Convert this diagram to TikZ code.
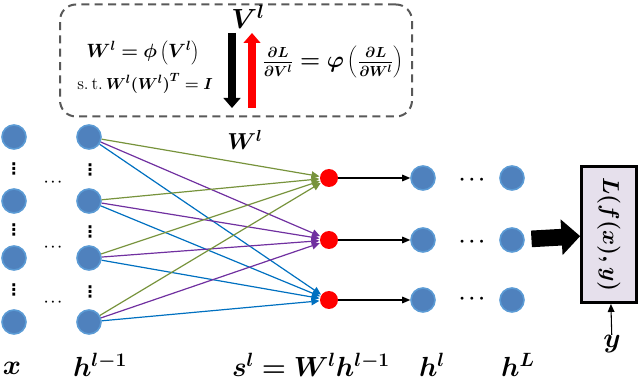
\documentclass[tikz,border=0pt]{standalone}
\usepackage{fontspec}
\usepackage{xcolor}
\usepackage{bm}
\usepackage{tikz}
\usetikzlibrary{positioning,arrows.meta}
\newfontfamily\symfont{DejaVu Sans}
\definecolor{unitfill}{HTML}{4F81BD}
\definecolor{unitrim}{HTML}{5B9BD5}
\definecolor{wgreen}{HTML}{77933C}
\definecolor{wpurple}{HTML}{7030A0}
\definecolor{wblue}{HTML}{0070C0}
\definecolor{lossfill}{HTML}{E6E0EC}
\definecolor{frame}{HTML}{595959}
\tikzset{
  unit/.style={circle,fill=unitfill,draw=unitrim,line width=1.2pt,
    minimum size=18pt,inner sep=0pt},
  pre/.style={circle,fill=red,minimum size=13.5pt,inner sep=0pt},
  lossbox/.style={rectangle,draw=black,fill=lossfill,line width=2.2pt,
    minimum width=41pt,minimum height=102pt,inner sep=0pt},
  dashbox/.style={rectangle,draw=frame,line width=1.5pt,dash pattern=on 6pt off 4pt,
    rounded corners=12pt,minimum width=264pt,minimum height=84pt},
  wl/.style={line width=0.9pt,-{Triangle[length=6pt,width=5.5pt]},shorten >=0.3pt},
  fl/.style={line width=0.8pt,-{Triangle[length=6pt,width=5pt]}},
  updown/.style={line width=5.5pt,-{Triangle[length=7.5pt,width=12.5pt]}},
  big/.style={line width=12.5pt,-{Triangle[length=14pt,width=26pt]},shorten <=5pt},
  vd/.style={font=\symfont\bfseries\large,inner sep=0pt},
  hd/.style={font=\normalsize,inner sep=0pt},
  lab/.style={font=\huge,inner sep=0pt},
}

\begin{document}
\begin{tikzpicture}[x=0.75pt,y=-0.75pt]
  \useasboundingbox (0,0) rectangle (640,381);
  % input layer and layer l-1
  \node[unit] (x1) at (14,137) {};
  \node[unit] (x2) at (14,201) {};
  \node[unit] (x3) at (14,258) {};
  \node[unit] (x4) at (14,322) {};
  \node[unit] (h1) at (89,137) {};
  \node[unit] (h2) at (89,201) {};
  \node[unit] (h3) at (89,258) {};
  \node[unit] (h4) at (89,322) {};
  \node[vd] (xd1) at (14,169) {⋮};
  \node[vd] (xd2) at (14,230) {⋮};
  \node[vd] (xd3) at (14,290) {⋮};
  \node[vd] (hd1) at (90,170) {⋮};
  \node[vd] (hd2) at (90,232) {⋮};
  \node[vd] (hd3) at (90,292) {⋮};
  \node[hd] (md1) at (53,182) {$\bm{\cdots}$};
  \node[hd] (md2) at (53,247) {$\bm{\cdots}$};
  \node[hd] (md3) at (53,302) {$\bm{\cdots}$};
  % pre-activations, layer l and last layer
  \node[pre] (s1) at (329,178) {};
  \node[pre] (s2) at (329,240) {};
  \node[pre] (s3) at (329,300) {};
  \node[unit] (a1) at (423,178) {};
  \node[unit] (a2) at (423,240) {};
  \node[unit] (a3) at (423,300) {};
  \node[unit] (b1) at (512,178) {};
  \node[unit] (b2) at (512,240) {};
  \node[unit] (b3) at (512,300) {};
  \node[hd,font=\Large] (rd1) at (472,180) {$\bm{\cdots}$};
  \node[hd,font=\Large] (rd2) at (472,242) {$\bm{\cdots}$};
  \node[hd,font=\Large] (rd3) at (472,299) {$\bm{\cdots}$};
  \node[lossbox] (L) at (609,234.5) {\rotatebox{-90}{\fontsize{18.5}{22}\selectfont$\bm{L(f(x),y)}$}};
  % weights
  \draw[wl,wgreen] (h1) -- (s1); \draw[wl,wpurple] (h1) -- (s2); \draw[wl,wblue] (h1) -- (s3);
  \draw[wl,wgreen] (h2) -- (s1); \draw[wl,wpurple] (h2) -- (s2); \draw[wl,wblue] (h2) -- (s3);
  \draw[wl,wgreen] (h3) -- (s1); \draw[wl,wpurple] (h3) -- (s2); \draw[wl,wblue] (h3) -- (s3);
  \draw[wl,wgreen] (h4) -- (s1); \draw[wl,wpurple] (h4) -- (s2); \draw[wl,wblue] (h4) -- (s3);
  \draw[fl] (s1) -- (a1); \draw[fl] (s2) -- (a2); \draw[fl] (s3) -- (a3);
  \draw[big] (b2) -- (L);
  % labels
  \node[lab] (lx) at (12,368) {$\bm{x}$};
  \node[lab] (lh) at (100,365) {$\bm{h^{l-1}}$};
  \node[lab] (ls) at (311,365) {$\bm{s^l = W^l h^{l-1}}$};
  \node[lab] (la) at (432,365) {$\bm{h^l}$};
  \node[lab] (lb) at (518,365) {$\bm{h^L}$};
  \node[lab] (ly) at (612,344) {$\bm{y}$};
  \draw[fl] (ly) -- (L);
  \node[lab,font=\LARGE] (lw) at (245,140) {$\bm{W^l}$};
  % reparametrisation box
  \node[dashbox] (B) at (236,60.5) {};
  \node[font=\Large,inner sep=0pt] (e1) at (143,53) {$\bm{W^l = \phi\left(V^l\right)}$};
  \node[font=\fontsize{13}{15}\selectfont,inner sep=0pt] (e2) at (145,83) {s.\,t.\,$\bm{W^l(W^l)^T = I}$};
  \node[font=\fontsize{16}{19}\selectfont,inner sep=0pt] (e3) at (333,62) {$\bm{\frac{\partial L}{\partial V^l} = \varphi\left(\frac{\partial L}{\partial W^l}\right)}$};
  \node[lab] (lv) at (248,17) {$\bm{V^l}$};
  \coordinate (dt) at (232,33); \coordinate (db) at (232,108);
  \coordinate (ut) at (252,33); \coordinate (ub) at (252,108);
  \draw[updown,black] (dt) -- (db);
  \draw[updown,red] (ub) -- (ut);
\end{tikzpicture}
\end{document}
